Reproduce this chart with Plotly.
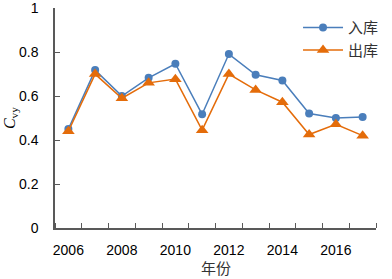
import plotly.graph_objects as go

years = [2006, 2007, 2008, 2009, 2010, 2011, 2012, 2013, 2014, 2015, 2016, 2017]
inflow = [0.45, 0.718, 0.60, 0.683, 0.747, 0.517, 0.791, 0.697, 0.671, 0.521, 0.50, 0.505]
outflow = [0.44, 0.70, 0.59, 0.66, 0.677, 0.445, 0.70, 0.628, 0.572, 0.425, 0.472, 0.42]
xtick_vals = [2006, 2008, 2010, 2012, 2014, 2016]
xtick_text = ["2006", "2008", "2010", "2012", "2014", "2016"]
ytick_vals = [0, 0.2, 0.4, 0.6, 0.8, 1.0]
ytick_text = ["0", "0.2", "0.4", "0.6", "0.8", "1"]

blue = "#4A7EBB"
orange = "#E46C0A"

fig = go.Figure()
fig.add_trace(go.Scatter(x=years, y=inflow, name="入库", mode="lines+markers",
                         line=dict(color=blue, width=1.5),
                         marker=dict(symbol="circle", size=8, color=blue)))
fig.add_trace(go.Scatter(x=years, y=outflow, name="出库", mode="lines+markers",
                         line=dict(color=orange, width=1.5),
                         marker=dict(symbol="triangle-up", size=11, color=orange)))

axis_col = "#595959"
fig.update_layout(
    width=392, height=279,
    margin=dict(l=55, r=9, t=8, b=51),
    paper_bgcolor="white", plot_bgcolor="white",
    font=dict(family="Liberation Sans, Arial", size=14, color="#000000"),
    showlegend=True,
    legend=dict(x=1.025, y=0.985, xanchor="right", yanchor="top",
                bgcolor="rgba(0,0,0,0)", itemwidth=40,
                font=dict(family="Noto Sans CJK SC", size=15, color="#333333"),
                tracegroupgap=0),
    xaxis=dict(range=[2005.5, 2017.5], tickvals=xtick_vals, ticktext=xtick_text,
               ticks="", showgrid=False, zeroline=False, automargin=False,
               showline=True, linecolor=axis_col, linewidth=1.5,
               ticklabelstandoff=8,
               minor=dict(tick0=2005.5, dtick=1, ticks="inside", ticklen=5,
                          tickcolor=axis_col, tickwidth=1, showgrid=False)),
    yaxis=dict(range=[0, 1.0005], tickvals=ytick_vals, ticktext=ytick_text,
               ticks="inside", ticklen=5, tickcolor=axis_col,
               showgrid=False, zeroline=False, automargin=False,
               showline=True, linecolor=axis_col, linewidth=1.5,
               ticklabelstandoff=12),
)
fig.add_annotation(text="<i>C</i><sub>vy</sub>", xref="paper", yref="paper",
                   x=-0.14, y=0.5, xanchor="center", yanchor="middle",
                   textangle=-90, showarrow=False,
                   font=dict(family="Liberation Serif", size=16, color="#000000"))
fig.add_annotation(text="年份", xref="paper", yref="paper",
                   x=0.5, y=-39 / 220, xanchor="center", yanchor="middle",
                   showarrow=False,
                   font=dict(family="Noto Sans CJK SC", size=15, color="#333333"))

fig.write_html("out.html", config={"displayModeBar": False},
               post_script="document.body.style.margin='0';")
